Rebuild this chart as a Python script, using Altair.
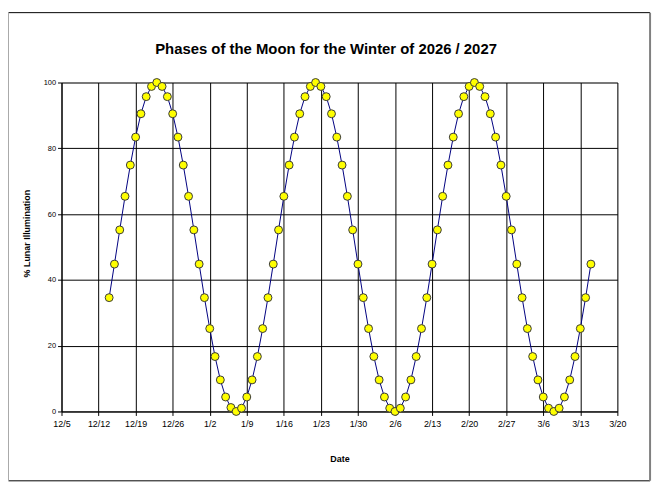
import altair as alt
import pandas as pd

# Daily % lunar illumination, 12/14/2026 .. 3/15/2027
start_date = "2026-12-14"
illum = [
    34.6, 44.8, 55.2, 65.4, 74.9, 83.4, 90.5, 95.7, 98.8, 100,          # 12/14-12/23
    98.8, 95.7, 90.5, 83.4, 74.9, 65.4, 55.2, 44.8, 34.6, 25.2,          # 12/24-1/2
    16.7, 9.6, 4.4, 1.2, 0,                                              # 1/3-1/7
    1.0, 4.4, 9.6, 16.7, 25.2, 34.6, 44.8, 55.2, 65.4, 74.9,             # 1/8-1/17
    83.4, 90.5, 95.7, 98.8, 100,                                         # 1/18-1/22
    98.8, 95.7, 90.5, 83.4, 74.9, 65.4, 55.2, 44.8, 34.6, 25.2,          # 1/23-2/1
    16.7, 9.6, 4.4, 1.0, 0,                                              # 2/2-2/6
    1.0, 4.4, 9.6, 16.7, 25.2, 34.6, 44.8, 55.2, 65.4, 74.9,             # 2/7-2/16
    83.4, 90.5, 95.7, 98.8, 100,                                         # 2/17-2/21
    98.8, 95.7, 90.5, 83.4, 74.9, 65.4, 55.2, 44.8, 34.6, 25.2,          # 2/22-3/3
    16.7, 9.6, 4.4, 1.0, 0,                                              # 3/4-3/8
    1.0, 4.4, 9.6, 16.7, 25.2, 34.6, 44.8,                               # 3/9-3/15
]
dates = pd.date_range(start_date, periods=len(illum), freq="D").strftime("%Y-%m-%dT00:00:00").tolist()

tick_dates = ["2026-12-05", "2026-12-12", "2026-12-19", "2026-12-26", "2027-01-02",
              "2027-01-09", "2027-01-16", "2027-01-23", "2027-01-30", "2027-02-06",
              "2027-02-13", "2027-02-20", "2027-02-27", "2027-03-06", "2027-03-13",
              "2027-03-20"]
y_ticks = [0, 20, 40, 60, 80, 100]

title_text = "Phases of the Moon for the Winter of 2026 / 2027"
x_title = "Date"
y_title = "% Lunar Illumination"

df = pd.DataFrame({"date": dates, "illum": illum})

def to_dt(s):
    y, m, d = (int(p) for p in s.split("-"))
    return alt.DateTime(year=y, month=m, date=d)

FONT = "Liberation Sans"

x_enc = alt.X(
    "date:T",
    title=x_title,
    scale=alt.Scale(domain=[to_dt(tick_dates[0]), to_dt(tick_dates[-1])], nice=False),
    axis=alt.Axis(
        values=[to_dt(t) for t in tick_dates], tickCount=40,
        format="%-m/%-d",
        labelFont=FONT, labelFontSize=9, labelColor="black",
        labelPadding=4, tickSize=4, tickColor="black", domainColor="black",
        titleFont=FONT, titleFontSize=9, titleFontWeight="bold", titleColor="black",
        titlePadding=27, gridColor="black", gridOpacity=1, gridWidth=1,
        labelFlush=False, labelOverlap=False,
    ),
)
y_enc = alt.Y(
    "illum:Q",
    title=y_title,
    scale=alt.Scale(domain=[0, 100], nice=False),
    axis=alt.Axis(
        values=y_ticks,
        labelFont=FONT, labelFontSize=7.5, labelColor="black",
        labelPadding=2, tickSize=4, tickColor="black", domainColor="black",
        titleFont=FONT, titleFontSize=9, titleFontWeight="bold", titleColor="black",
        titleX=-30, titleY=152, gridColor="black", gridOpacity=1, gridWidth=1,
    ),
)

line = alt.Chart(df).mark_line(color="#000080", strokeWidth=1).encode(x=x_enc, y=y_enc)
pts = alt.Chart(df).mark_point(
    shape="circle", filled=True, fill="#FFFF00", stroke="#3a3a3a",
    strokeWidth=1, size=64, opacity=1,
).encode(x="date:T", y="illum:Q")

one = pd.DataFrame({"k": [0]})
title_mark = alt.Chart(one).mark_text(
    text=title_text, font=FONT, fontSize=15, fontWeight="bold", color="black",
    align="center", baseline="alphabetic",
).encode(x=alt.value(267), y=alt.value(-29))

border_top = alt.Chart(one).mark_rule(color="black", strokeWidth=1).encode(
    x=alt.value(-53.5), x2=alt.value(594), y=alt.value(-70.5))
border_bottom = alt.Chart(one).mark_rule(color="black", strokeWidth=1).encode(
    x=alt.value(-53.5), x2=alt.value(594), y=alt.value(402))
border_left = alt.Chart(one).mark_rule(color="#a8a8a8", strokeWidth=1).encode(
    x=alt.value(-53.5), y=alt.value(-70.5), y2=alt.value(402))
border_right = alt.Chart(one).mark_rule(color="#808080", strokeWidth=2).encode(
    x=alt.value(594), y=alt.value(-70.5), y2=alt.value(402))

chart = alt.layer(line, pts, title_mark, border_top, border_bottom, border_left, border_right).properties(
    width=561, height=332,
    autosize=alt.AutoSizeParams(type="none"),
    padding={"left": 54, "top": 73, "right": 40, "bottom": 70},
).configure_view(stroke="black", strokeWidth=1).configure(background="white")

chart.save("out.html", embed_options={"renderer": "svg", "actions": False})
